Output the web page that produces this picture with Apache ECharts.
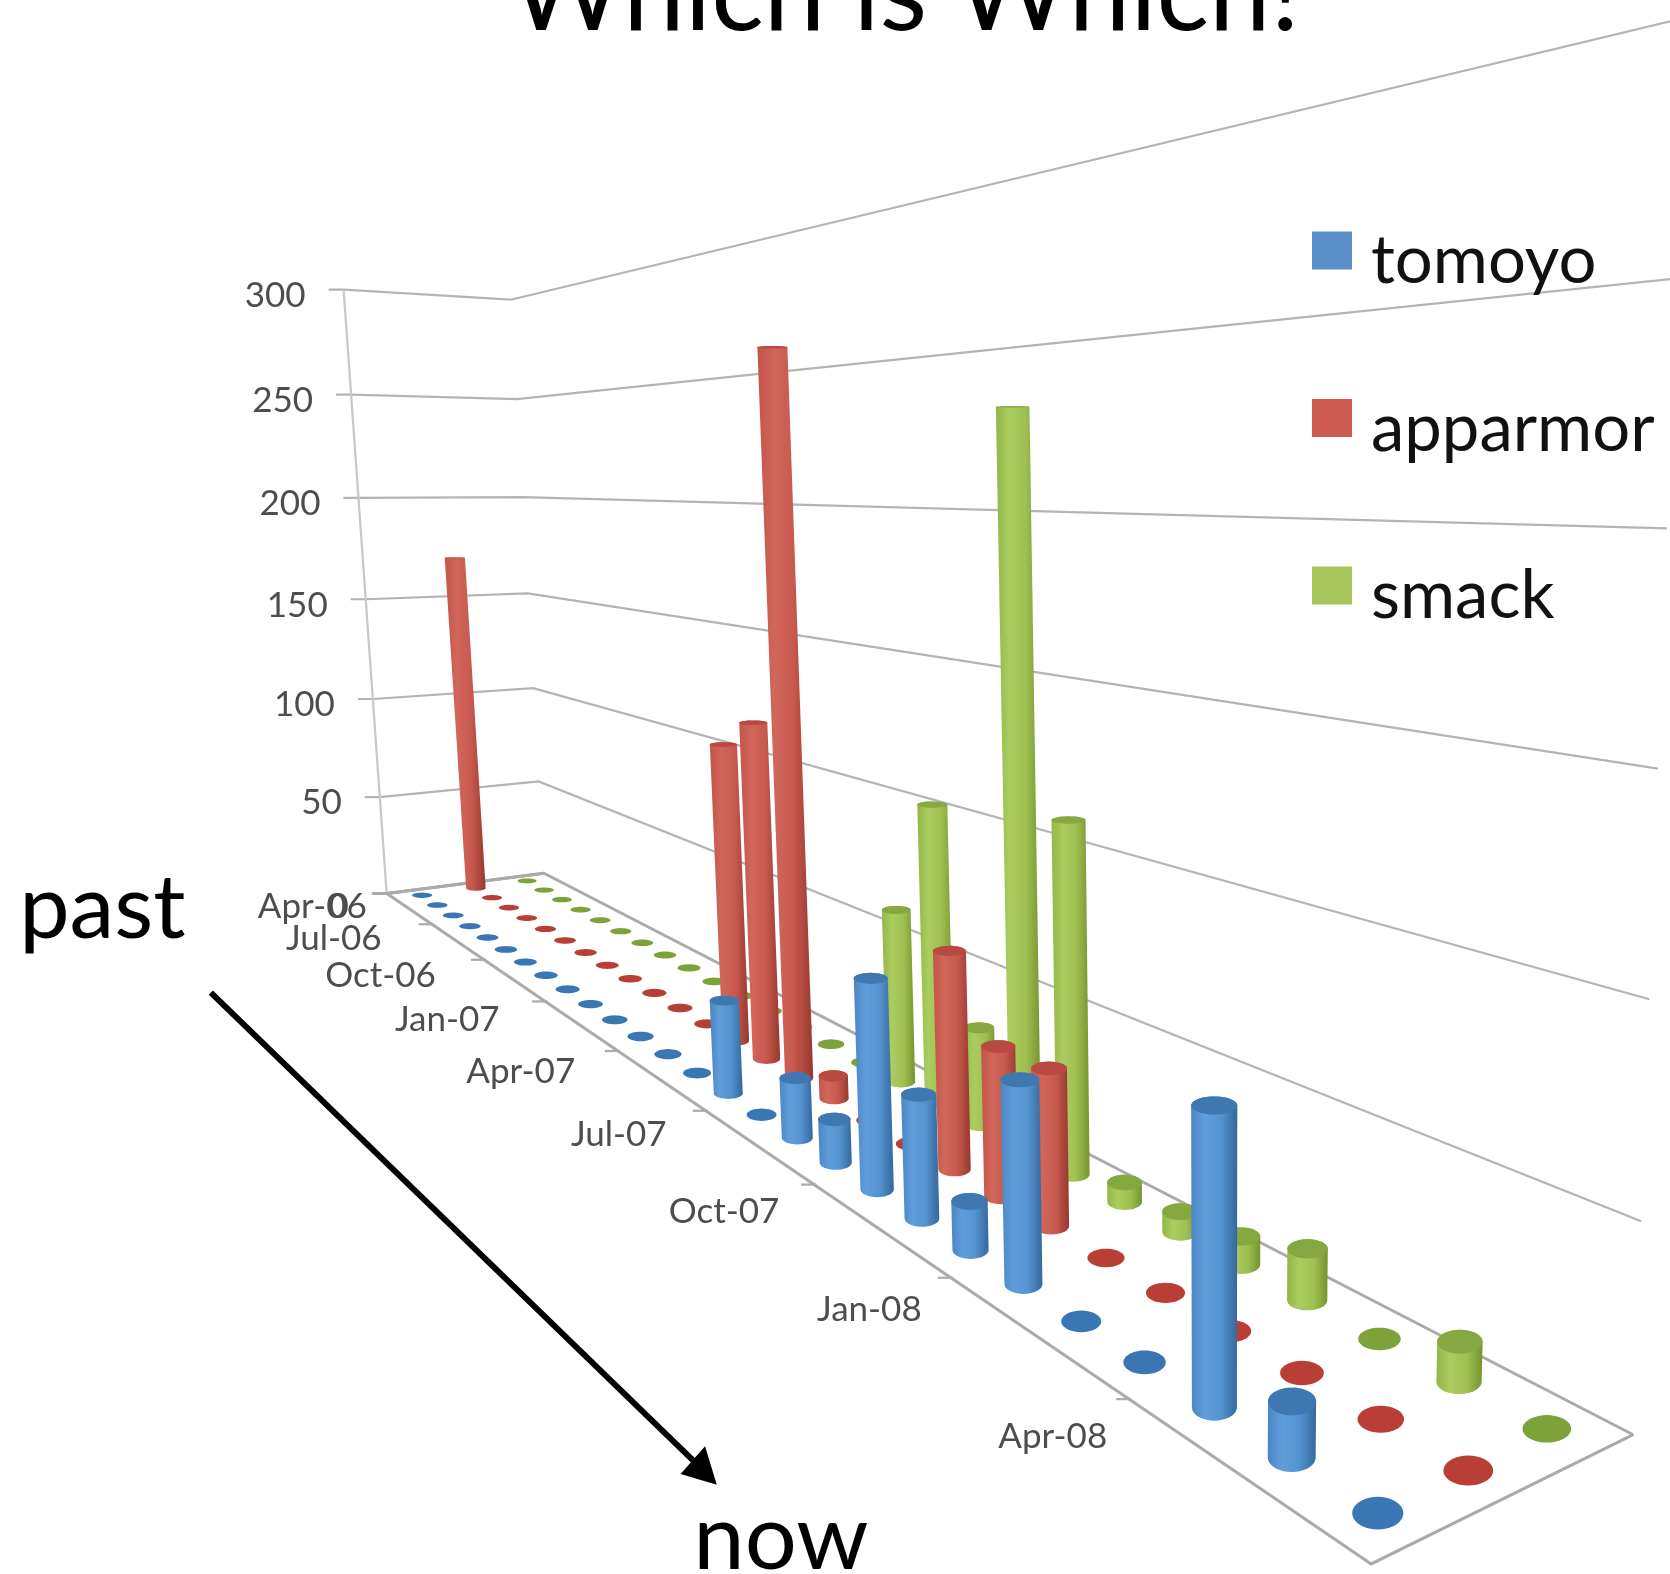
<!DOCTYPE html>
<html><head><meta charset="utf-8">
<style>html,body{margin:0;padding:0;background:#fff}#c{width:1670px;height:1574px}</style>
<script src="https://cdn.jsdelivr.net/npm/echarts@6/dist/echarts.min.js"></script>
</head><body><div id="c"></div>
<script>
const months = ['Apr-06','May-06','Jun-06','Jul-06','Aug-06','Sep-06','Oct-06','Nov-06','Dec-06','Jan-07','Feb-07','Mar-07','Apr-07','May-07','Jun-07','Jul-07','Aug-07','Sep-07','Oct-07','Nov-07','Dec-07','Jan-08','Feb-08','Mar-08','Apr-08','May-08','Jun-08'];
const tomoyo   = [0,0,0,0,0,0,0,0,0,0,0,0,0,0,33,0,20,14,65,37,14,56,0,0,72,13,0];
const apparmor = [170,0,0,0,0,0,0,0,0,0,0,0,113,124,253,8,0,0,69,46,46.5,0,0,0,0,0,0];
const smack    = [0,0,0,0,0,0,0,0,0,0,0,0,0,0,0,62,103,33,231,110,6,6,8,14,0,10,0];
const valueTicks = [0,50,100,150,200,250,300];
const monthTicks = ['Apr-06','Jul-06','Oct-06','Jan-07','Apr-07','Jul-07','Oct-07','Jan-08','Apr-08'];
const seriesNames = ['tomoyo','apparmor','smack'];

const W = 1670, H = 1574, S = W / 1568, N = months.length;

// Camera of the tilted 3D view, fitted from the box corners: [month, row, value] -> picture position.
const calibration = [
  [-.5,0,0,365,838],[-.5,3,0,508,820],[26.5,3,0,1535,1345],[26.5,0,0,1285,1470],
  [-.5,0,300,322,270],[-.5,3,300,480,282],[26.5,3,300,1580,17],
  [-.5,0,150,343,565],[26.5,3,150,1560,722],[-.5,3,150,497,557]
];
const rowNudge = [.05,.05,0];
function fitCamera(pts){
  const A=[],b=[];
  pts.forEach(([u,v,h,x,y])=>{
    const U=u/27,V=v/3,Z=h/300,X=x*S/1000,Y=y*S/1000;
    A.push([U,V,Z,1,0,0,0,0,-X*U,-X*V,-X*Z]);b.push(X);
    A.push([0,0,0,0,U,V,Z,1,-Y*U,-Y*V,-Y*Z]);b.push(Y);
  });
  const n=11,M=[];
  for(let i=0;i<n;i++){M[i]=[];for(let j=0;j<=n;j++){let s=0;for(let k=0;k<A.length;k++)s+=A[k][i]*(j<n?A[k][j]:b[k]);M[i][j]=s+(i===j?1e-10:0);}}
  for(let i=0;i<n;i++){let p=i;for(let r=i+1;r<n;r++)if(Math.abs(M[r][i])>Math.abs(M[p][i]))p=r;[M[i],M[p]]=[M[p],M[i]];
    for(let r=0;r<n;r++){if(r===i)continue;const f=M[r][i]/M[i][i];for(let c=i;c<=n;c++)M[r][c]-=f*M[i][c];}}
  return M.map((r,i)=>r[n]/r[i]);
}
const cam = fitCamera(calibration);
function depth(u,v,h){return cam[8]*u/27+cam[9]*v/3+cam[10]*h/300+1;}
function proj(u,v,h){
  const U=u/27,V=v/3,Z=h/300,w=depth(u,v,h);
  return [1000*(cam[0]*U+cam[1]*V+cam[2]*Z+cam[3])/w,1000*(cam[4]*U+cam[5]*V+cam[6]*Z+cam[7])/w];
}
// Disc of a cylinder at a height: sized by the perspective, drawn upright on the page like the original.
function ring(u,v,h){
  let x0=1e9,x1=-1e9,y0=1e9,y1=-1e9;
  for(let i=0;i<24;i++){const a=i/24*2*Math.PI,p=proj(u+.25*Math.cos(a),v+.2*Math.sin(a),h);
    x0=Math.min(x0,p[0]);x1=Math.max(x1,p[0]);y0=Math.min(y0,p[1]);y1=Math.max(y1,p[1]);}
  const cx=(x0+x1)/2,cy=(y0+y1)/2,rx=(x1-x0)/2*.87,ry=(y1-y0)/2*.95,out=[];
  for(let i=0;i<36;i++){const a=i/36*2*Math.PI;out.push([cx+rx*Math.cos(a),cy+ry*Math.sin(a)]);}
  return out;
}
function hull(ps){
  const p=ps.slice().sort((a,b)=>a[0]-b[0]||a[1]-b[1]);
  const cr=(o,a,b)=>(a[0]-o[0])*(b[1]-o[1])-(a[1]-o[1])*(b[0]-o[0]);
  const lo=[],up=[];
  for(const q of p){while(lo.length>1&&cr(lo[lo.length-2],lo[lo.length-1],q)<=0)lo.pop();lo.push(q);}
  for(const q of p.slice().reverse()){while(up.length>1&&cr(up[up.length-2],up[up.length-1],q)<=0)up.pop();up.push(q);}
  return lo.slice(0,-1).concat(up.slice(0,-1));
}

const styles = [
  {legend:'#5b8fc8',dot:'#3a76b4',cap:'#3f78b0',side:['#4a86c2','#5f9ddb','#5493d0','#33689b']},
  {legend:'#cd5b50',dot:'#b83e36',cap:'#b84a42',side:['#c4544a','#d1665b','#c8594e','#97382f']},
  {legend:'#a8c65c',dot:'#7ea23a',cap:'#86a840',side:['#94b648','#abcc5e','#a0c152','#76932f']}
];

// painter's order across all three series: far bars first
const rank = {};
[tomoyo,apparmor,smack].map((vals,s)=>vals.map((_,m)=>[s,m,Math.abs(depth(m,s+.5,0))]))
  .flat().sort((a,b)=>b[2]-a[2]).forEach((e,i)=>{rank[e[0]+'_'+e[1]]=i;});

function toWorld(api,m,val){
  const c=api.coord([m,val]);
  const size=api.size([1,0])[0];
  return [c[0]/size-.5,(H-c[1])/H*300];
}
function barRenderer(s){
  return function(params,api){
    const m=api.value(0),val=api.value(1);
    const w=toWorld(api,m,val),u=w[0]+rowNudge[s],h=w[1];
    const v=s+.5,st=styles[s],z=10+2*rank[s+'_'+m];
    if(val===0) return {type:'polygon',z2:z,shape:{points:ring(u,v,0)},style:{fill:st.dot}};
    const base=ring(u,v,0),top=ring(u,v,h);
    return {type:'group',children:[
      {type:'polygon',z2:z,shape:{points:hull(base.concat(top))},style:{fill:{type:'linear',x:0,y:0,x2:1,y2:0,colorStops:[
        {offset:0,color:st.side[0]},{offset:.3,color:st.side[1]},{offset:.65,color:st.side[2]},{offset:1,color:st.side[3]}]}}},
      {type:'polygon',z2:z+1,shape:{points:top},style:{fill:st.cap}}
    ]};
  };
}
function frameRenderer(params,api){
  const ch=[];
  const grey='#b4b4b4',label='#4d4d4d',font='35px Lato';
  const L=-.5,R=26.5;
  valueTicks.forEach(t=>{
    const a=proj(L,0,t),b=proj(L,3,t),c=proj(R,3,t);
    ch.push({type:'polyline',z2:1,shape:{points:[[a[0]-15,a[1]],a,b,c]},style:{fill:null,stroke:t===0?'#aaaaaa':grey,lineWidth:t===0?3:2.2}});
    ch.push({type:'text',z2:2,style:{text:String(t),x:a[0]-38,y:a[1]+(t===0?13:6),fill:label,font,align:'right',verticalAlign:'middle'}});
  });
  ch.push({type:'polyline',z2:1,shape:{points:[proj(L,0,0),proj(L,0,300)]},style:{fill:null,stroke:'#c8c8c8',lineWidth:2.2}});
  ch.push({type:'polyline',z2:1,shape:{points:[proj(L,3,0),proj(L,0,0),proj(R,0,0),proj(R,3,0)]},style:{fill:null,stroke:'#aaaaaa',lineWidth:3}});
  const s0=1/Math.abs(depth(L,0,0)),s1=1/Math.abs(depth(23.5,0,0));
  monthTicks.forEach((t,i)=>{
    const u=months.indexOf(t)-.5,p=proj(u,0,0);
    const k=(1/Math.abs(depth(u,0,0))-s0)/(s1-s0);
    ch.push({type:'line',z2:2,shape:{x1:p[0]-13,y1:p[1],x2:p[0]+2,y2:p[1]},style:{stroke:'#aaaaaa',lineWidth:2.2}});
    ch.push({type:'text',z2:3,style:{text:t,x:p[0]-52+30*k+(i===0?32:0),y:p[1]+13+25*k,fill:label,font,align:'right',verticalAlign:'middle'}});
  });
  return {type:'group',children:ch};
}

const chart = echarts.init(document.getElementById('c'),null,{width:W,height:H,renderer:'canvas'});
const big='#000000';
chart.setOption({
  animation:false,
  backgroundColor:'#ffffff',
  title:{text:'Which is Which!',left:510,top:-60,padding:0,itemGap:0,
    textStyle:{fontFamily:'Lato',fontWeight:'normal',fontSize:110,color:big}},
  legend:{show:true,orient:'vertical',left:1312,top:228,padding:0,icon:'path://M0,0h40v38h-40z M40,60h0z',itemWidth:40,itemHeight:60,itemGap:100.5,selectedMode:false,
    data:seriesNames,textStyle:{fontFamily:'Lato',fontSize:67,color:'#111111',lineHeight:38,padding:[0,0,0,14]}},
  grid:{left:0,top:0,right:0,bottom:0},
  xAxis:{type:'category',data:months,show:false},
  yAxis:{type:'value',min:0,max:300,interval:50,show:false},
  series:[
    {type:'custom',name:'frame',data:[[0,0]],encode:{x:0,y:1},silent:true,renderItem:frameRenderer,clip:false,z:1},
    {type:'custom',name:'tomoyo',data:tomoyo.map((d,i)=>[i,d]),encode:{x:0,y:1},itemStyle:{color:styles[0].legend},renderItem:barRenderer(0),clip:false,z:2},
    {type:'custom',name:'apparmor',data:apparmor.map((d,i)=>[i,d]),encode:{x:0,y:1},itemStyle:{color:styles[1].legend},renderItem:barRenderer(1),clip:false,z:2},
    {type:'custom',name:'smack',data:smack.map((d,i)=>[i,d]),encode:{x:0,y:1},itemStyle:{color:styles[2].legend},renderItem:barRenderer(2),clip:false,z:2}
  ],
  graphic:[
    {type:'text',left:18*S,top:811*S,style:{text:'past',font:'90px Lato',fill:big}},
    {type:'text',left:651*S,top:1402*S,style:{text:'now',font:'92px Lato',fill:big}},
    {type:'line',shape:{x1:198*S,y1:932*S,x2:665*S,y2:1385*S},style:{stroke:big,lineWidth:6}},
    {type:'polygon',shape:{points:[[673*S,1394*S],[639*S,1384*S],[662*S,1358*S]]},style:{fill:big}}
  ]
});
</script></body></html>
